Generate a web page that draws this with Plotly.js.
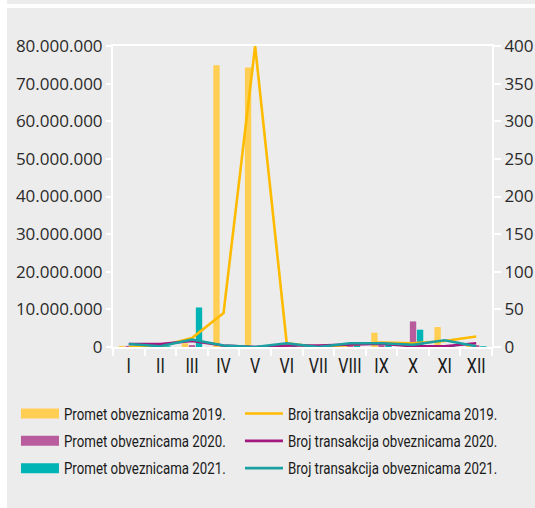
<!DOCTYPE html>
<html>
<head>
<meta charset="utf-8">
<script src="https://cdn.plot.ly/plotly-3.0.1.min.js"></script>
<style>
  html, body { margin: 0; padding: 0; background: #ffffff; }
  #bgtop { position: absolute; left: 7px; top: 0; width: 528px; height: 4px; background: #ececec; }
  #bg { position: absolute; left: 7px; top: 8px; width: 528px; height: 500px; background: #ececec; }
  #chart { position: absolute; left: 0; top: 0; width: 535px; height: 508px; }
  #chart text.legendtext, #chart text.legend2text {
    transform: scaleX(0.83);
    transform-box: fill-box;
    transform-origin: 0% 50%;
  }
</style>
</head>
<body>
<div id="bgtop"></div>
<div id="bg"></div>
<div id="chart"></div>
<script>
const months = ['I','II','III','IV','V','VI','VII','VIII','IX','X','XI','XII'];

const promet2019 = [300000, 300000, 1000000, 74900000, 74300000, 200000, 200000, 300000, 3800000, 800000, 5300000, 500000];
const promet2020 = [300000, 300000, 500000, 200000, 100000, 300000, 300000, 500000, 500000, 6800000, 300000, 500000];
const promet2021 = [200000, 200000, 10500000, 200000, 100000, 300000, 200000, 600000, 600000, 4600000, 500000, 200000];

const broj2019 = [0, 1, 12, 45, 400, 5, 0, 3, 6, 5, 8, 14];
const broj2020 = [4, 4, 8, 2, 0, 2, 2, 3, 4.5, 1, 1, 5];
const broj2021 = [4, 1, 10, 2, 0, 5, 0, 5, 5, 3, 9, 1];

const names = {
  p19: 'Promet obveznicama 2019.', p20: 'Promet obveznicama 2020.', p21: 'Promet obveznicama 2021.',
  b19: 'Broj transakcija obveznicama 2019.', b20: 'Broj transakcija obveznicama 2020.', b21: 'Broj transakcija obveznicama 2021.'
};

const barCol = { y19: '#FFCE52', y20: '#B95C9E', y21: '#00B3B5' };
const lineCol = { y19: '#FFBB00', y20: '#A3187E', y21: '#1AA0A2' };

function bar(y, color) {
  return { type: 'bar', x: months, y: y, marker: { color: color }, showlegend: false, hoverinfo: 'skip', xaxis: 'x', yaxis: 'y' };
}
function legendBox(name, color) {
  return { type: 'scatter', mode: 'lines', x: [null], y: [null], name: name, legendgroup: name,
           legend: 'legend', line: { color: color, width: 11 }, xaxis: 'x', yaxis: 'y' };
}
function line(y, name, color) {
  return { type: 'scatter', mode: 'lines', x: months, y: y, name: name, legendgroup: name,
           legend: 'legend2', line: { color: color, width: 2.6 }, xaxis: 'x', yaxis: 'y2' };
}

const data = [
  bar(promet2019, barCol.y19),
  bar(promet2020, barCol.y20),
  bar(promet2021, barCol.y21),
  legendBox(names.p19, barCol.y19),
  legendBox(names.p20, barCol.y20),
  legendBox(names.p21, barCol.y21),
  line(broj2019, names.b19, lineCol.y19),
  line(broj2020, names.b20, lineCol.y20),
  line(broj2021, names.b21, lineCol.y21)
];

const tickFont = { family: 'Open Sans, Noto Sans, sans-serif', size: 17, color: '#2a2a2a' };
const legFont = { family: 'Roboto, Lato, sans-serif', size: 16, color: '#1a1a1a' };

const legendBase = {
  orientation: 'v',
  xanchor: 'left',
  y: -0.165, yanchor: 'top',
  bgcolor: 'rgba(0,0,0,0)',
  itemwidth: 38,
  traceorder: 'grouped',
  tracegroupgap: 3.5,
  font: legFont
};

const layout = {
  width: 535, height: 508,
  margin: { l: 113, r: 43, t: 46, b: 161, autoexpand: false },
  paper_bgcolor: 'rgba(0,0,0,0)',
  plot_bgcolor: 'rgba(0,0,0,0)',
  separators: ',.',
  barmode: 'group',
  bargap: 0.33,
  bargroupgap: 0.1,
  showlegend: true,
  xaxis: {
    type: 'category',
    showline: true, linecolor: '#ffffff', linewidth: 2, mirror: true,
    ticks: 'outside', tickson: 'boundaries', tickcolor: '#ffffff', ticklen: 7, tickwidth: 2,
    showgrid: false, zeroline: false, tickangle: 0,
    tickfont: { family: 'Roboto, Open Sans, sans-serif', size: 20, color: '#1a1a1a' }
  },
  yaxis: {
    range: [0, 80000000], tickvals: [0,10000000,20000000,30000000,40000000,50000000,60000000,70000000,80000000],
    tickformat: ',d',
    showline: true, linecolor: '#ffffff', linewidth: 2,
    ticks: 'outside', tickcolor: '#ffffff', ticklen: 5, tickwidth: 2,
    showgrid: false, zeroline: false,
    tickfont: tickFont
  },
  yaxis2: {
    overlaying: 'y', side: 'right',
    range: [0, 400], tickvals: [0,50,100,150,200,250,300,350,400],
    showline: true, linecolor: '#ffffff', linewidth: 2,
    ticks: 'outside', tickcolor: '#ffffff', ticklen: 7, tickwidth: 2,
    showgrid: false, zeroline: false,
    tickfont: tickFont
  },
  legend: Object.assign({}, legendBase, { x: -0.256 }),
  legend2: Object.assign({}, legendBase, { x: 0.335 })
};

function condense(selector, k) {
  document.querySelectorAll(selector).forEach(function (t) {
    t.removeAttribute('textLength');
    t.removeAttribute('lengthAdjust');
    const w = t.getComputedTextLength();
    if (w > 0) {
      t.setAttribute('textLength', (w * k).toFixed(2));
      t.setAttribute('lengthAdjust', 'spacingAndGlyphs');
    }
  });
}

const gd = document.getElementById('chart');
Plotly.newPlot(gd, data, layout, { displayModeBar: false, staticPlot: true }).then(function () {
  condense('#chart .xtick text', 0.8);
});
</script>
</body>
</html>
